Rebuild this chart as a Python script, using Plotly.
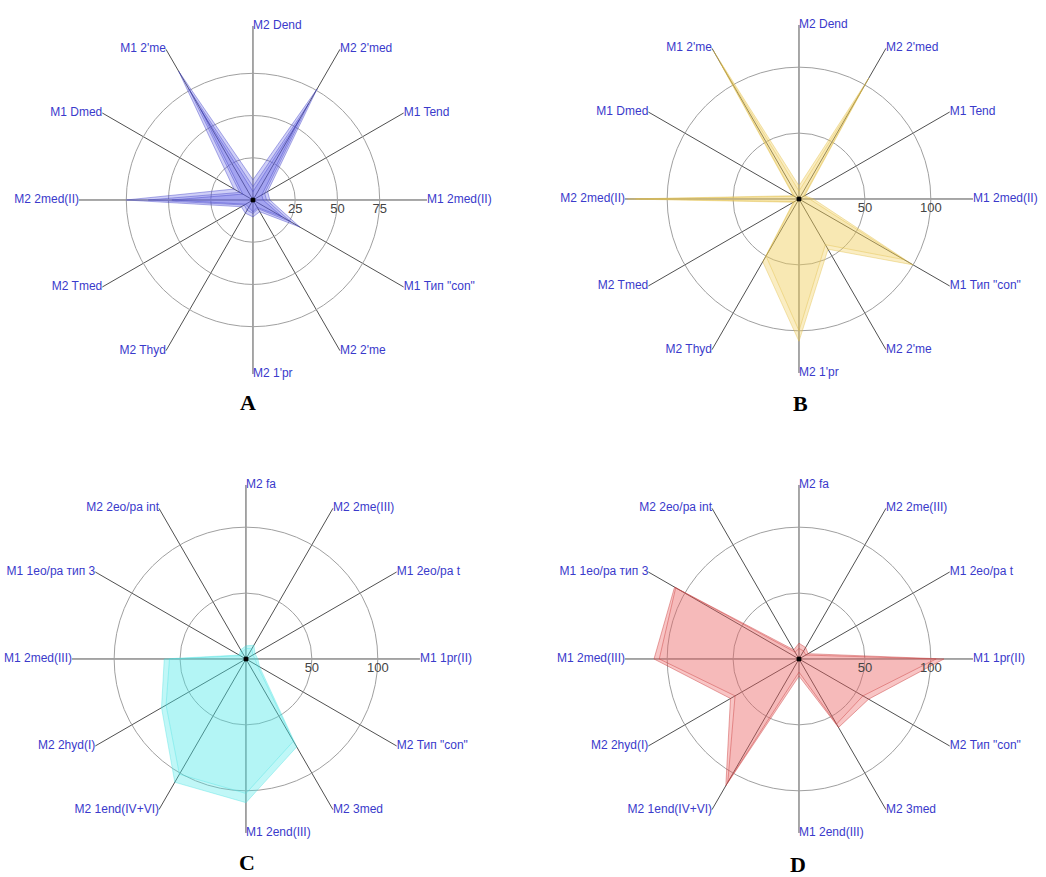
import plotly.graph_objects as go

# ---------------- data ----------------
cats_ab = ["M2 Dend", "M2 2'med", "M1 Tend", "M1 2med(II)", 'M1 Тип "con"', "M2 2'me",
           "M2 1'pr", "M2 Thyd", "M2 Tmed", "M2 2med(II)", "M1 Dmed", "M1 2'me"]
cats_cd = ["M2 fa", "M2 2me(III)", "M1 2eo/pa t", "M1 1pr(II)", 'M2 Тип "con"', "M2 3med",
           "M1 2end(III)", "M2 1end(IV+VI)", "M2 2hyd(I)", "M1 2med(III)", "M1 1eo/pa тип 3", "M2 2eo/pa int"]

a_s1 = [12, 76, 10, 10, 32, 8, 10, 9, 8, 75, 13, 88]
a_s2 = [8, 66, 8, 8, 26, 6, 8, 7, 6, 62, 9, 76]
a_s3 = [5, 55, 6, 6, 20, 5, 7, 5, 5, 48, 7, 62]

b_s1 = [10, 106, 5, 11, 100, 44, 108, 55, 5, 130, 5, 130]
b_s2 = [6, 96, 4, 8, 92, 40, 100, 50, 4, 124, 4, 118]

c_s1 = [10, 12, 8, 9, 12, 77, 109, 108, 74, 62, 6, 8]
c_s2 = [8, 9, 6, 7, 10, 72, 102, 101, 70, 58, 5, 6]

d_s1 = [12, 10, 8, 110, 61, 60, 13, 111, 60, 110, 109, 8]
d_s2 = [8, 7, 6, 104, 56, 57, 10, 108, 56, 106, 108, 6]

ticks_a = [25, 50, 75]
ticks_bcd = [50, 100]
range_a = 103
range_bcd = 132

panels = [
    dict(name="polar", cats=cats_ab, series=[a_s1, a_s2, a_s3], rng=range_a, ticks=ticks_a,
         fills=["rgba(95,95,230,0.30)", "rgba(95,95,230,0.22)", "rgba(95,95,230,0.22)"],
         line="rgba(70,70,200,0.55)",
         dom_x=[0.0755, 0.4082], dom_y=[0.5735, 0.9704]),
    dict(name="polar2", cats=cats_ab, series=[b_s1, b_s2], rng=range_bcd, ticks=ticks_bcd,
         fills=["rgba(240,205,90,0.36)", "rgba(240,205,90,0.15)"],
         line="rgba(225,190,70,0.5)",
         dom_x=[0.5975, 0.9302], dom_y=[0.5747, 0.9715]),
    dict(name="polar3", cats=cats_cd, series=[c_s1, c_s2], rng=range_bcd, ticks=ticks_bcd,
         fills=["rgba(70,232,232,0.34)", "rgba(70,232,232,0.10)"],
         line="rgba(70,225,225,0.45)",
         dom_x=[0.0688, 0.4015], dom_y=[0.0502, 0.4470]),
    dict(name="polar4", cats=cats_cd, series=[d_s1, d_s2], rng=range_bcd, ticks=ticks_bcd,
         fills=["rgba(235,95,95,0.36)", "rgba(235,95,95,0.10)"],
         line="rgba(205,70,70,0.6)",
         dom_x=[0.5975, 0.9302], dom_y=[0.0502, 0.4470]),
]
letters = [("A", 0.237, 0.541), ("B", 0.765, 0.540), ("C", 0.236, 0.016), ("D", 0.763, 0.014)]

label_color = "#3a3acb"
fig = go.Figure()

for p in panels:
    sub = p["name"]
    cats = p["cats"]
    for s, fc in zip(p["series"], p["fills"]):
        fig.add_trace(go.Scatterpolar(
            r=s + [s[0]], theta=cats + [cats[0]], subplot=sub, mode="lines",
            fill="toself", fillcolor=fc, line=dict(color=p["line"], width=0.8),
            showlegend=False, hoverinfo="skip"))
    # axis end labels
    n = len(cats)
    pos = ["middle right" if i <= n // 2 else "middle left" for i in range(n)]
    fig.add_trace(go.Scatterpolar(
        r=[p["rng"]] * n, theta=cats, subplot=sub, mode="text", text=cats,
        textposition=pos, cliponaxis=False,
        textfont=dict(family="Liberation Sans, Arial", size=12, color=label_color),
        showlegend=False, hoverinfo="skip"))
    # center dot
    fig.add_trace(go.Scatterpolar(
        r=[0], theta=[cats[0]], subplot=sub, mode="markers",
        marker=dict(color="black", size=5), showlegend=False, hoverinfo="skip"))

    fig.update_layout(**{sub: dict(
        domain=dict(x=p["dom_x"], y=p["dom_y"]),
        bgcolor="white",
        radialaxis=dict(range=[0, p["rng"]], tickvals=p["ticks"], showline=False,
                        showgrid=True, gridcolor="#a0a0a0", gridwidth=1.2,
                        angle=0, tickangle=0, side="clockwise", ticks="",
                        tickfont=dict(family="Liberation Sans, Arial", size=13, color="#444")),
        angularaxis=dict(direction="clockwise", rotation=90, showline=False,
                         showticklabels=False, ticks="", showgrid=True,
                         gridcolor="#505050", gridwidth=1.3,
                         categoryorder="array", categoryarray=cats),
    )})

for t, x, y in letters:
    fig.add_annotation(text="<b>%s</b>" % t, x=x, y=y, xref="paper", yref="paper",
                       showarrow=False, xanchor="center", yanchor="middle",
                       font=dict(family="Liberation Serif, Times New Roman", size=22, color="black"))

fig.update_layout(width=1046, height=877, margin=dict(l=0, r=0, t=0, b=0),
                  paper_bgcolor="white", plot_bgcolor="white", showlegend=False)

fig.write_html("out.html", config={"displayModeBar": False},
               post_script="document.body.style.margin='0';document.body.style.overflow='hidden';")
